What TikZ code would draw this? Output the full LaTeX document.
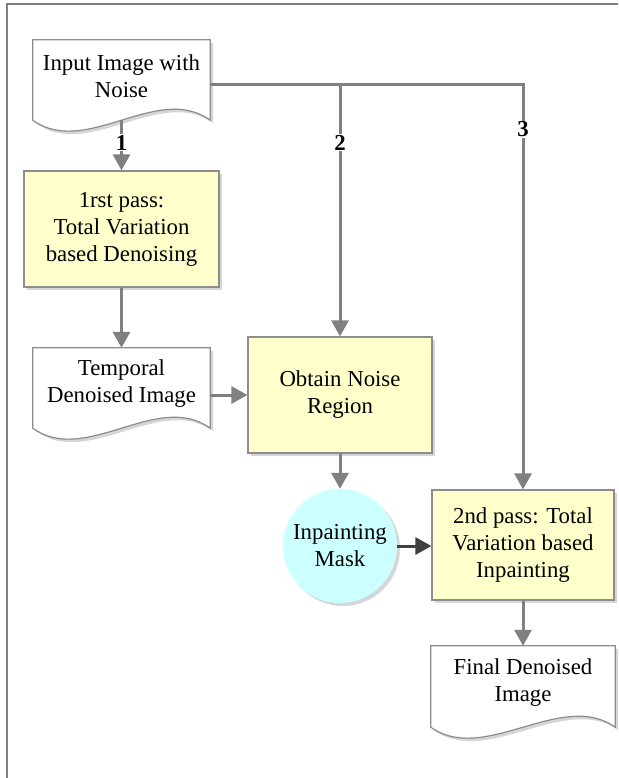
\documentclass[tikz,border=0pt]{standalone}
\usepackage{fontspec}
\setmainfont{Liberation Serif}
\usetikzlibrary{arrows.meta,shadows,calc}
\definecolor{linegray}{HTML}{808080}
\definecolor{boxborder}{HTML}{8C8C8C}
\definecolor{boxyellow}{HTML}{FFFFCC}
\definecolor{maskcyan}{HTML}{CCFFFF}
\definecolor{shadowgray}{HTML}{D6D6D6}
\definecolor{darkarrow}{HTML}{404040}
\tikzset{
  txt/.style={font=\fontsize{22.8}{27}\selectfont, align=center, text=black},
  procbox/.style={txt, rectangle, draw=boxborder, line width=1.2pt, fill=boxyellow, inner sep=0pt,
     general shadow={fill=shadowgray, shadow xshift=3pt, shadow yshift=-3pt}},
  docnode/.style={txt, rectangle, inner sep=0pt},
  maskcircle/.style={txt, circle, fill=maskcyan, inner sep=0pt, minimum size=114pt,
     general shadow={fill=shadowgray, shadow xshift=3pt, shadow yshift=-3pt}},
  flow/.style={draw=linegray, line width=3pt, -{Triangle[length=16pt,width=17pt]}},
  flowline/.style={draw=linegray, line width=3pt},
  darkflow/.style={draw=darkarrow, line width=3pt, -{Triangle[length=16pt,width=17pt]}},
  numlabel/.style={font=\fontsize{22.8}{27}\selectfont\bfseries, fill=white, inner sep=1pt},
  frameline/.style={draw=linegray, line width=1.3pt}
}
\newcommand\docdraw[1]{%
  \path[fill=shadowgray] ([shift={(3,3)}]#1.north west) -- ([shift={(3,3)}]#1.north east)
    -- ([shift={(3,11)}]#1.south east)
    .. controls ([shift={(-50,-27)}]#1.south east) and ([shift={(56,49)}]#1.south west)
    .. ([shift={(3,11)}]#1.south west) -- cycle;
  \path[draw=boxborder, line width=1.2pt, fill=white] (#1.north west) -- (#1.north east)
    -- ([shift={(0,8)}]#1.south east)
    .. controls ([shift={(-53,-30)}]#1.south east) and ([shift={(53,46)}]#1.south west)
    .. ([shift={(0,8)}]#1.south west) -- cycle;
}
\begin{document}
\begin{tikzpicture}[x=1pt,y=-1pt]
\useasboundingbox (0,0) rectangle (618,778);
\draw[frameline] (7,778) -- (7,4) -- (618,4);

% document-shaped nodes (text only; outline drawn by \docdraw)
\node[docnode, minimum width=177pt, minimum height=72pt] (in) at (121.5,76) {};
\node[docnode, minimum width=177pt, minimum height=72pt] (tmp) at (121.5,384) {};
\node[docnode, minimum width=184pt, minimum height=73pt] (fin) at (523,682.5) {};
\docdraw{in}
\docdraw{tmp}
\docdraw{fin}
\node[txt] (intext) at (in.center) {Input Image with\\Noise};
\node[txt] (tmptext) at (tmp.center) {Temporal\\Denoised Image};
\node[txt] (fintext) at (fin.center) {Final Denoised\\Image};

% process boxes
\node[procbox, minimum width=195pt, minimum height=116pt] (p1) at (121.5,229) {1rst pass:\\Total Variation\\based Denoising};
\node[procbox, minimum width=184pt, minimum height=116pt] (obt) at (340,395) {Obtain Noise\\Region};
\node[procbox, minimum width=182pt, minimum height=110pt] (p2) at (523,545) {2nd pass: Total\\Variation based\\Inpainting};
\node[maskcircle] (mask) at (340,546) {Inpainting\\Mask};

% branch points
\coordinate (start) at ([yshift=-9pt]in.east);
\coordinate (j2) at (340,85);
\coordinate (c3) at (523,85);

% connectors
\draw[flowline] (start) -- ([xshift=1.5pt]c3);
\draw[flow] ([yshift=-8pt]in.south) -- node[numlabel, pos=0.45] (l1) {1} (p1.north);
\draw[flow] (j2) -- node[numlabel, pos=0.23] (l2) {2} (obt.north);
\draw[flow] (c3) -- node[numlabel, pos=0.11] (l3) {3} (p2.north);
\draw[flow] (p1.south) -- (tmp.north);
\draw[flow] (obt.west -| tmp.east) -- (obt.west);
\draw[flow] (obt.south) -- (mask.north);
\draw[darkflow] (mask.east) -- (mask.east -| p2.west);
\draw[flow] (p2.south) -- (fin.north);
\end{tikzpicture}
\end{document}
